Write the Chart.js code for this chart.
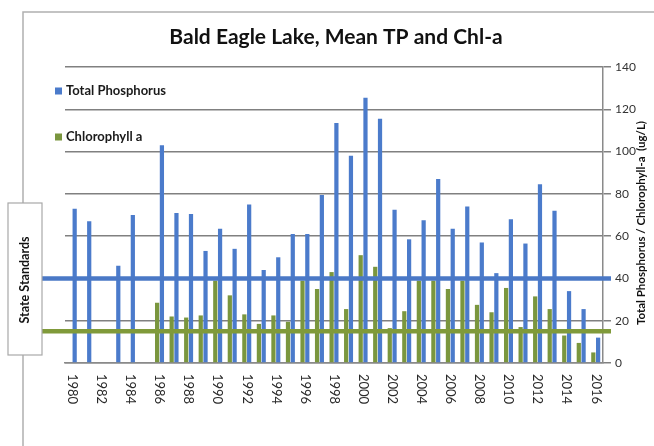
<!DOCTYPE html>
<html><head><meta charset="utf-8">
<script src="https://cdn.jsdelivr.net/npm/chart.js@4.4.1/dist/chart.umd.min.js"></script>
<style>html,body{margin:0;padding:0;background:#fff;}#wrap{width:654px;height:446px;position:relative;}</style>
</head><body><div id="wrap"><canvas id="c" width="654" height="446"></canvas></div>
<script>
const chartTitle = 'Bald Eagle Lake, Mean TP and Chl-a';
const years = ['1980','1981','1982','1983','1984','1985','1986','1987','1988','1989','1990','1991','1992','1993','1994','1995','1996','1997','1998','1999','2000','2001','2002','2003','2004','2005','2006','2007','2008','2009','2010','2011','2012','2013','2014','2015','2016'];
const xTickLabels = ['1980','1982','1984','1986','1988','1990','1992','1994','1996','1998','2000','2002','2004','2006','2008','2010','2012','2014','2016'];
const totalPhosphorus = [73,67,null,46,70,null,103,71,70.5,53,63.5,54,75,44,50,61,61,79.5,113.5,98,125.5,115.5,72.5,58.5,67.5,87,63.5,74,57,42.5,68,56.5,84.5,72,34,25.5,12];
const chlorophyllA = [null,null,null,null,null,null,28.5,22,21.5,22.5,39,32,23,18.5,22.5,19.5,39,35,43,25.5,51,45.5,16.5,24.5,39,39,35,39,27.5,24,35.5,17,31.5,25.5,13,9.5,5];
const yTicks = [0,20,40,60,80,100,120,140];
const stateStandards = [40, 15];
const standardColors = ['#4a78c6', '#809a3a'];
const legendOrder = ['Total Phosphorus', 'Chlorophyll a'];
const yAxisTitle = 'Total Phosphorus / Chlorophyll-a  (ug/L)';
const standardsLabel = 'State Standards';

const BLUE = '#4b7bcb', GREEN = '#7a963e';

const deco = {
  id: 'deco',
  beforeDraw(chart) {
    const c = chart.ctx;
    c.save();
    c.fillStyle = '#fff';
    c.fillRect(0, 0, chart.width, chart.height);
    c.strokeStyle = '#b0b0b0';
    c.lineWidth = 1.5;
    c.beginPath();
    c.moveTo(23, chart.height);
    c.lineTo(23, 12);
    c.lineTo(chart.width, 12);
    c.stroke();
    // title
    const ca = chart.chartArea;
    c.fillStyle = '#111';
    c.font = 'bold 21px Lato';
    c.textAlign = 'center';
    c.textBaseline = 'middle';
    c.fillText(chartTitle, (ca.left + ca.right) / 2 + 2, 37);
    c.restore();
  },
  afterDatasetsDraw(chart) {
    const c = chart.ctx, ca = chart.chartArea, y = chart.scales.y;
    c.save();
    stateStandards.forEach((v, i) => {
      const py = y.getPixelForValue(v);
      c.strokeStyle = standardColors[i];
      c.lineWidth = 4.5;
      c.beginPath();
      c.moveTo(40, py);
      c.lineTo(ca.right + 8, py);
      c.stroke();
    });
    c.restore();
  },
  afterDraw(chart) {
    const c = chart.ctx, ca = chart.chartArea, x = chart.scales.x;
    c.save();
    // State standards box
    c.fillStyle = '#fff';
    c.strokeStyle = '#a8a8a8';
    c.lineWidth = 1.2;
    c.fillRect(8, 203, 34, 152);
    c.strokeRect(8, 203, 34, 152);
    c.fillStyle = '#111';
    c.font = 'bold 12.5px Lato';
    c.textAlign = 'center';
    c.textBaseline = 'middle';
    c.translate(25, 280);
    c.rotate(-Math.PI / 2);
    c.fillText(standardsLabel, 0, 0);
    c.restore();

    // x labels rotated clockwise
    c.save();
    c.fillStyle = '#2a2a2a';
    c.font = '13px Lato';
    c.textAlign = 'left';
    c.textBaseline = 'middle';
    years.forEach((yr, i) => {
      if (!xTickLabels.includes(yr)) return;
      const px = x.getPixelForValue(i);
      c.save();
      c.translate(px, x.top + 11);
      c.rotate(Math.PI / 2);
      c.fillText(yr, 0, 0);
      c.restore();
    });
    c.restore();

    // right axis title
    c.save();
    c.fillStyle = '#111';
    c.font = 'bold 11.5px Lato';
    c.textAlign = 'center';
    c.textBaseline = 'middle';
    c.translate(641, (ca.top + ca.bottom) / 2 + 8);
    c.rotate(-Math.PI / 2);
    c.fillText(yAxisTitle, 0, 0);
    c.restore();

    // legend
    c.save();
    c.font = 'bold 13px Lato';
    c.textAlign = 'left';
    c.textBaseline = 'middle';
    legendOrder.forEach((lab, i) => {
      const ds = chart.data.datasets.find(d => d.label === lab);
      const ly = ca.top + 24 + i * 46;
      c.fillStyle = ds.backgroundColor;
      c.fillRect(ca.left - 10, ly - 3.5, 7, 7);
      c.fillStyle = '#1a1a1a';
      c.fillText(lab, ca.left + 1, ly);
    });
    c.restore();
  }
};

new Chart(document.getElementById('c'), {
  type: 'bar',
  data: {
    labels: years,
    datasets: [
      { label: 'Chlorophyll a', data: chlorophyllA, backgroundColor: GREEN, borderWidth: 0 },
      { label: 'Total Phosphorus', data: totalPhosphorus, backgroundColor: BLUE, borderWidth: 0 }
    ]
  },
  options: {
    responsive: false,
    animation: false,
    layout: { padding: { top: 67, left: 65, right: 0, bottom: 0 } },
    datasets: { bar: { categoryPercentage: 0.66, barPercentage: 0.88 } },
    plugins: { legend: { display: false }, title: { display: false }, tooltip: { enabled: false } },
    scales: {
      x: {
        grid: { display: false },
        border: { color: '#8a8a8a', width: 1.5 },
        ticks: { display: false },
        afterFit(s) { s.height = 83; }
      },
      y: {
        position: 'right',
        min: 0, max: 140,
        afterBuildTicks(s) { s.ticks = yTicks.map(v => ({ value: v })); },
        grid: { color: '#808080', lineWidth: 1.5, tickLength: 8, drawOnChartArea: true },
        border: { color: '#8a8a8a', width: 1.5 },
        ticks: { color: '#333', font: { family: 'Lato', size: 12 }, padding: 4 },
        afterFit(s) { s.width = 51; }
      }
    }
  },
  plugins: [deco]
});
</script></body></html>
